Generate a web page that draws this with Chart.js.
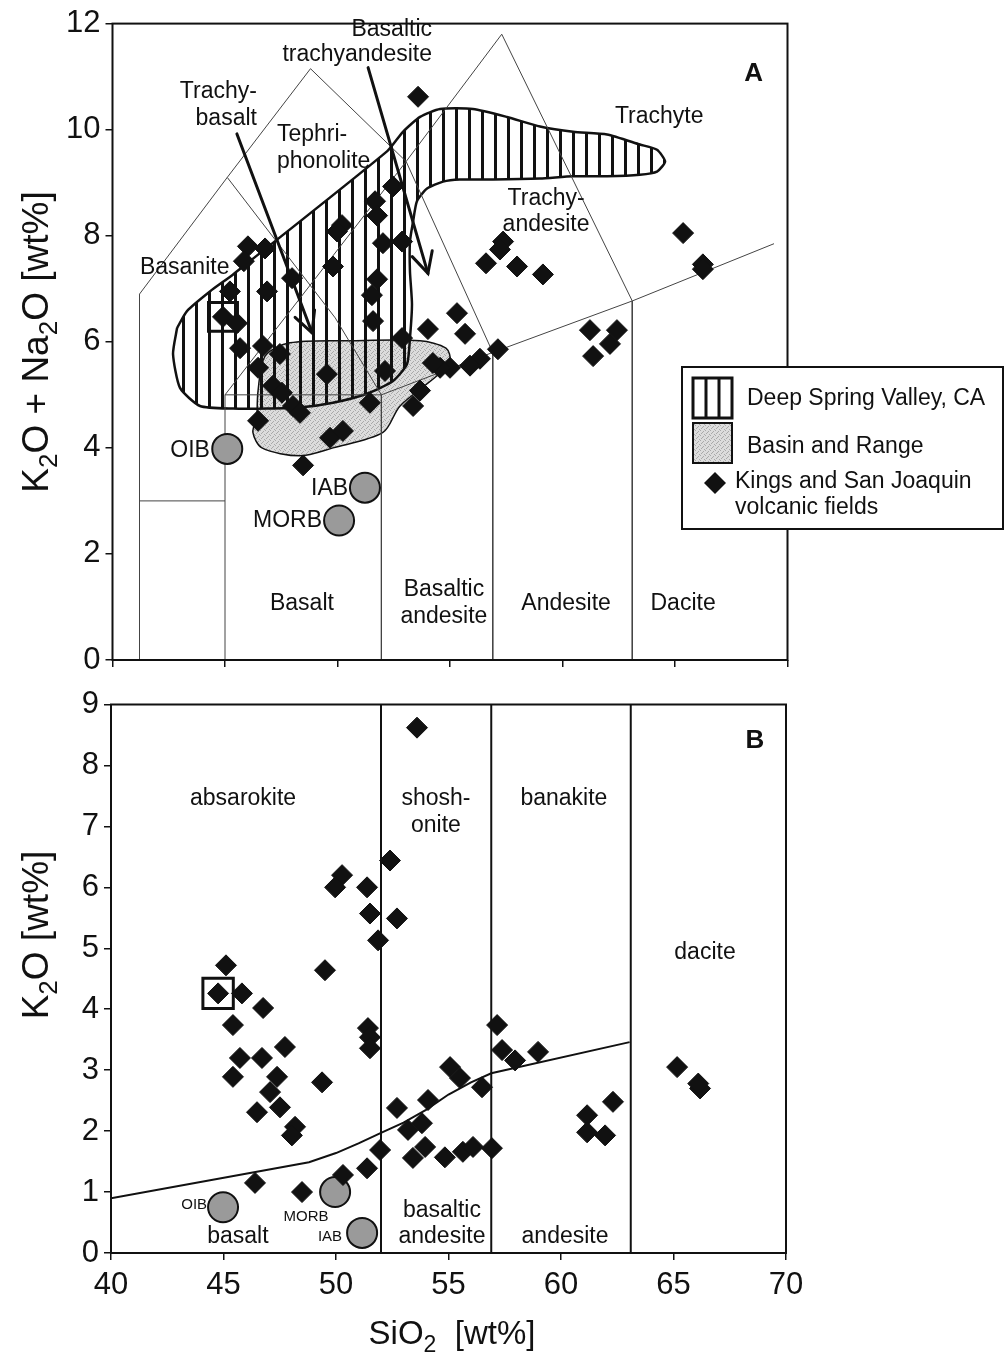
<!DOCTYPE html>
<html>
<head>
<meta charset="utf-8">
<script src="https://cdn.jsdelivr.net/npm/chart.js@4.4.1/dist/chart.umd.min.js"></script>
<style>
  html, body { margin: 0; padding: 0; background: #fff; }
  #wrap { position: relative; width: 1005px; height: 1360px; }
  .box  { position: absolute; left: 0; width: 1005px; }
  #boxA { top: 0; height: 700px; }
  #boxB { top: 680px; height: 680px; }
</style>
</head>
<body>
<div id="wrap">
  <div class="box" id="boxA"><canvas id="chartA"></canvas></div>
  <div class="box" id="boxB"><canvas id="chartB"></canvas></div>
</div>
<script>
// ── Data ───────────────────────────────────────────────────────────────────
// Kings and San Joaquin volcanic fields, TAS plot (A)
const TAS_SIO2 = [53.58, 52.47, 51.67, 51.76, 50.2, 49.98, 46.02, 46.78, 45.84, 52.02,
                  52.87, 49.8, 47.98, 51.76, 45.22, 46.87, 51.53, 44.91, 45.53, 51.58,
                  54.02, 52.87, 55.31, 55.67, 57.36, 57.22, 56.6, 57.98, 59.13, 65.36,
                  66.24, 66.24, 61.22, 62.42, 62.11, 61.36, 57.13, 56.33, 55.89, 55.0,
                  54.56, 54.24, 52.11, 53.67, 53.36, 51.44, 45.67, 46.69, 47.44, 46.47,
                  49.53, 47.13, 47.53, 48.02, 48.33, 46.47, 49.67, 50.24, 48.47];
const TAS_ALK  = [10.62, 8.93, 8.65, 8.38, 8.2, 8.08, 7.8, 7.76, 7.52, 7.86,
                  7.89, 7.42, 7.2, 7.18, 6.95, 6.95, 6.88, 6.47, 6.35, 6.39,
                  6.24, 6.07, 6.54, 6.15, 7.89, 7.74, 7.48, 7.42, 7.27, 8.05,
                  7.46, 7.37, 6.22, 6.22, 5.96, 5.73, 5.86, 5.68, 5.55, 5.51,
                  5.51, 5.6, 5.45, 5.08, 4.79, 4.85, 5.88, 5.92, 5.77, 5.51,
                  5.39, 5.17, 5.04, 4.79, 4.66, 4.51, 4.19, 4.32, 3.67];

// Kings and San Joaquin volcanic fields, K2O plot (B)
const K_SIO2 = [53.6, 52.4, 50.27, 49.96, 51.38, 51.51, 52.71, 51.87, 45.11, 49.51,
                44.76, 45.82, 46.76, 45.42, 51.42, 51.51, 51.51, 47.73, 45.73, 46.71,
                45.42, 47.38, 49.38, 47.07, 46.49, 47.51, 48.18, 48.04, 46.4, 48.49,
                50.31, 51.38, 51.96, 52.71, 53.2, 53.82, 54.09, 53.96, 53.42, 54.84,
                55.07, 55.51, 56.49, 55.64, 56.09, 56.93, 57.16, 57.38, 57.96, 58.98,
                61.16, 62.31, 61.16, 61.96, 65.16, 66.18, 66.1];
const K_K2O  = [8.62, 6.44, 6.2, 6.0, 6.0, 5.57, 5.49, 5.13, 4.72, 4.64,
                4.26, 4.26, 4.02, 3.74, 3.69, 3.54, 3.36, 3.38, 3.2, 3.2,
                2.89, 2.89, 2.8, 2.64, 2.31, 2.39, 2.07, 1.93, 1.15, 1.0,
                1.28, 1.39, 1.69, 2.38, 2.02, 2.13, 2.51, 1.74, 1.56, 1.57,
                3.05, 2.87, 2.72, 1.66, 1.74, 1.72, 3.74, 3.33, 3.16, 3.3,
                2.26, 2.48, 1.98, 1.93, 3.05, 2.7, 2.78];

// reference basalts: OIB, IAB, MORB
const REF_NAMES    = ['OIB', 'IAB', 'MORB'];
const REF_TAS_SIO2 = [45.1, 51.22, 50.07];
const REF_TAS_ALK  = [3.98, 3.25, 2.63];
const REF_K_SIO2   = [44.98, 51.16, 49.96];
const REF_K_K2O    = [0.75, 0.33, 1.0];

// the boxed sample
const BOXED_TAS = [44.91, 6.47];
const BOXED_K   = [44.76, 4.26];

// Deep Spring Valley field (outline)
const DSV_SIO2 = [42.87, 43.31, 44.33, 45.36, 52.2, 52.91, 53.67, 54.56, 56.02, 57.53,
                  59.0, 60.47, 61.98, 63.44, 64.2, 64.56, 64.2, 63.44, 61.98, 60.47,
                  59.0, 56.91, 55.44, 54.69, 53.98, 53.53, 53.36, 53.22, 53.22, 53.31,
                  53.22, 53.09, 52.47, 51.31, 49.8, 48.33, 46.87, 45.36, 43.89, 43.0,
                  42.69, 42.87];
const DSV_ALK  = [6.26, 6.58, 6.95, 7.27, 9.59, 9.96, 10.24, 10.39, 10.39, 10.24,
                  10.06, 9.96, 9.91, 9.72, 9.62, 9.4, 9.21, 9.15, 9.12, 9.12,
                  9.08, 9.06, 9.06, 9.02, 8.89, 8.65, 8.27, 7.89, 7.33, 6.71,
                  6.07, 5.58, 5.26, 5.02, 4.85, 4.76, 4.74, 4.74, 4.79, 5.13,
                  5.77, 6.26];

// Basin and Range field (outline)
const BR_SIO2 = [46.42, 46.24, 46.64, 48.33, 49.8, 52.02, 52.78, 54.42, 55.0, 54.82,
                 53.67, 50.56, 47.89, 46.78, 46.47, 46.42];
const BR_ALK  = [4.57, 4.29, 4.0, 3.85, 4.0, 4.29, 4.79, 5.36, 5.64, 5.88,
                 6.02, 6.02, 5.98, 5.73, 5.08, 4.57];

// TAS field boundaries, [SiO2, Na2O+K2O]
const TAS_LINE_1 = [[41.2, 0], [41.2, 6.9], [45.1, 9.1], [48.8, 11.15], [53.05, 9.4], [56.9, 5.8], [56.9, 0]];
const TAS_LINE_2 = [[45, 0], [45, 5], [53.05, 9.4], [57.3, 11.8], [63.1, 6.77], [63.1, 0]];
const TAS_LINE_3 = [[45.1, 9.1], [49.9, 6.45], [51.95, 5], [51.95, 0]];
const TAS_LINE_4 = [[41.2, 3], [45, 3]];
const TAS_LINE_5 = [[45, 5], [51.95, 5], [56.9, 5.8], [63.1, 6.77], [69.4, 7.85]];

// arrows, tail -> head
const ARROW_TAIL_SIO2 = [45.53, 51.36];
const ARROW_TAIL_ALK  = [9.92, 11.17];
const ARROW_HEAD_SIO2 = [48.87, 54.02];
const ARROW_HEAD_ALK  = [6.17, 7.29];

// K2O plot: shoshonite boundary and SiO2 dividers
const K_CURVE_SIO2 = [40, 48.8, 50, 51, 52, 53, 54, 55, 56, 56.9, 63.05];
const K_CURVE_K2O  = [0.9, 1.49, 1.64, 1.8, 1.97, 2.14, 2.35, 2.6, 2.8, 2.95, 3.46];
const K_DIVIDERS   = [52, 56.9, 63.1];

// ── Style ──────────────────────────────────────────────────────────────────
const FONT = '"Liberation Sans", Arial, Helvetica, sans-serif';
const INK  = '#111';
const LBL  = 23;

const xy = (xs, ys) => xs.map((x, i) => ({ x, y: ys[i] }));
const pairs = arr => arr.map(([x, y]) => ({ x, y }));

function hatchPattern() {
  const c = document.createElement('canvas');
  c.width = 13; c.height = 8;
  const g = c.getContext('2d');
  g.fillStyle = INK;
  g.fillRect(0, 0, 3, 8);
  return g.createPattern(c, 'repeat');
}

function stipplePattern() {
  const c = document.createElement('canvas');
  c.width = 5; c.height = 5;
  const g = c.getContext('2d');
  g.fillStyle = '#dcdcdc';
  g.fillRect(0, 0, 5, 5);
  g.fillStyle = '#a9a9a9';
  [[0, 0], [3, 1], [1, 3], [4, 4], [2, 2]].forEach(([x, y]) => g.fillRect(x, y, 1, 1));
  return g.createPattern(c, 'repeat');
}

function lineSet(data, width, color, order) {
  return { type: 'line', data, borderColor: color, borderWidth: width, pointRadius: 0,
           pointHoverRadius: 0, fill: false, tension: 0, order };
}

function axisX(showLabels, height) {
  return {
    type: 'linear', min: 40, max: 70,
    ticks: { display: showLabels, stepSize: 5, font: { family: FONT, size: 31 }, color: INK, padding: 7, maxRotation: 0 },
    grid: { drawOnChartArea: false, tickLength: 7, color: INK, lineWidth: 1.5 },
    border: { display: false },
    afterFit: s => { s.height = height; }
  };
}

function axisY(max, step, width) {
  return {
    min: 0, max,
    ticks: { stepSize: step, font: { family: FONT, size: 31 }, color: INK, padding: 5 },
    grid: { drawOnChartArea: false, tickLength: 7, color: INK, lineWidth: 1.5 },
    border: { display: false },
    afterFit: s => { s.width = width; }
  };
}

// ── Drawing helpers ────────────────────────────────────────────────────────
function drawLabels(chart, list) {
  const { ctx, scales: { x, y } } = chart;
  ctx.save();
  ctx.fillStyle = INK;
  ctx.textBaseline = 'middle';
  list.forEach(([txt, sx, sy, align, size, bold]) => {
    ctx.font = (bold ? 'bold ' : '') + size + 'px ' + FONT;
    ctx.textAlign = align;
    ctx.fillText(txt, x.getPixelForValue(sx), y.getPixelForValue(sy));
  });
  ctx.restore();
}

// text with subscripts, parts = [[text, isSub], ...]
function richText(ctx, parts, cx, cy, size, rotate) {
  const main = size + 'px ' + FONT;
  const sub  = Math.round(size * 0.7) + 'px ' + FONT;
  ctx.save();
  ctx.translate(cx, cy);
  if (rotate) ctx.rotate(-Math.PI / 2);
  let w = 0;
  parts.forEach(([t, s]) => { ctx.font = s ? sub : main; w += ctx.measureText(t).width; });
  let px = -w / 2;
  ctx.fillStyle = INK;
  ctx.textAlign = 'left';
  ctx.textBaseline = 'middle';
  parts.forEach(([t, s]) => {
    ctx.font = s ? sub : main;
    ctx.fillText(t, px, s ? size * 0.32 : 0);
    px += ctx.measureText(t).width;
  });
  ctx.restore();
}

function drawFrame(chart) {
  const { ctx, chartArea: a } = chart;
  ctx.save();
  ctx.strokeStyle = INK;
  ctx.lineWidth = 2;
  ctx.strokeRect(a.left, a.top, a.right - a.left, a.bottom - a.top);
  ctx.restore();
}

function drawArrows(chart) {
  const { ctx, scales: { x, y } } = chart;
  ctx.save();
  ctx.strokeStyle = INK;
  ctx.lineWidth = 3;
  ctx.lineCap = 'round';
  ARROW_TAIL_SIO2.forEach((sx, i) => {
    const x1 = x.getPixelForValue(sx), y1 = y.getPixelForValue(ARROW_TAIL_ALK[i]);
    const x2 = x.getPixelForValue(ARROW_HEAD_SIO2[i]), y2 = y.getPixelForValue(ARROW_HEAD_ALK[i]);
    const a = Math.atan2(y2 - y1, x2 - x1), L = 23, s = 0.47;
    ctx.beginPath();
    ctx.moveTo(x1, y1);
    ctx.lineTo(x2, y2);
    ctx.stroke();
    ctx.beginPath();
    ctx.moveTo(x2 - L * Math.cos(a - s), y2 - L * Math.sin(a - s));
    ctx.lineTo(x2, y2);
    ctx.lineTo(x2 - L * Math.cos(a + s), y2 - L * Math.sin(a + s));
    ctx.stroke();
  });
  ctx.restore();
}

// ── Chart A: total alkali vs silica ────────────────────────────────────────
const HATCH = hatchPattern();
const STIPPLE = stipplePattern();

const TAS_TEXT = [
  ['Basaltic', 54.2, 11.88, 'right', LBL],
  ['trachyandesite', 54.2, 11.41, 'right', LBL],
  ['Trachy-', 46.42, 10.71, 'right', LBL],
  ['basalt', 46.42, 10.21, 'right', LBL],
  ['Tephri-', 47.31, 9.91, 'left', LBL],
  ['phonolite', 47.31, 9.4, 'left', LBL],
  ['Basanite', 41.22, 7.39, 'left', LBL],
  ['Trachyte', 62.33, 10.24, 'left', LBL],
  ['Trachy-', 59.27, 8.7, 'center', LBL],
  ['andesite', 59.27, 8.21, 'center', LBL],
  ['A', 68.5, 11.05, 'center', 26, true],
  ['OIB', 44.33, 3.95, 'right', LBL],
  ['IAB', 50.47, 3.23, 'right', LBL],
  ['MORB', 49.31, 2.63, 'right', LBL],
  ['Basalt', 48.42, 1.07, 'center', LBL],
  ['Basaltic', 54.73, 1.32, 'center', LBL],
  ['andesite', 54.73, 0.81, 'center', LBL],
  ['Andesite', 60.16, 1.07, 'center', LBL],
  ['Dacite', 65.36, 1.07, 'center', LBL]
];

const plotA = {
  id: 'plotA',
  afterDatasetsDraw(chart) {
    drawFrame(chart);
    drawArrows(chart);
    drawLabels(chart, TAS_TEXT);
  },
  afterDraw(chart) {
    const ctx = chart.ctx;
    richText(ctx, [['K', 0], ['2', 1], ['O + Na', 0], ['2', 1], ['O [wt%]', 0]], 38, 342, 37, true);

    // legend
    ctx.save();
    ctx.fillStyle = '#fff';
    ctx.fillRect(682, 367, 321, 162);
    ctx.strokeStyle = INK;
    ctx.lineWidth = 2;
    ctx.strokeRect(682, 367, 321, 162);

    ctx.lineWidth = 3;
    ctx.strokeRect(693, 378, 39, 40);
    ctx.beginPath();
    ctx.moveTo(706, 378); ctx.lineTo(706, 418);
    ctx.moveTo(719, 378); ctx.lineTo(719, 418);
    ctx.stroke();

    ctx.fillStyle = STIPPLE;
    ctx.fillRect(693, 423, 39, 40);
    ctx.lineWidth = 2;
    ctx.strokeRect(693, 423, 39, 40);

    ctx.fillStyle = INK;
    ctx.beginPath();
    ctx.moveTo(715, 472); ctx.lineTo(726, 483); ctx.lineTo(715, 494); ctx.lineTo(704, 483);
    ctx.closePath();
    ctx.fill();

    ctx.font = LBL + 'px ' + FONT;
    ctx.textAlign = 'left';
    ctx.textBaseline = 'middle';
    ctx.fillText('Deep Spring Valley, CA', 747, 399);
    ctx.fillText('Basin and Range', 747, 447);
    ctx.fillText('Kings and San Joaquin', 735, 482);
    ctx.fillText('volcanic fields', 735, 508);
    ctx.restore();
  }
};

new Chart(document.getElementById('chartA'), {
  type: 'scatter',
  data: {
    datasets: [
      { type: 'line', data: xy(BR_SIO2, BR_ALK), fill: 'shape', backgroundColor: STIPPLE,
        borderColor: INK, borderWidth: 1.5, pointRadius: 0, tension: 0.3, order: 20 },
      { type: 'line', data: xy(DSV_SIO2, DSV_ALK), fill: 'shape', backgroundColor: HATCH,
        borderColor: INK, borderWidth: 2.5, pointRadius: 0, tension: 0.2, order: 19 },
      lineSet(pairs(TAS_LINE_1), 1, '#444', 15),
      lineSet(pairs(TAS_LINE_2), 1, '#444', 15),
      lineSet(pairs(TAS_LINE_3), 1, '#444', 15),
      lineSet(pairs(TAS_LINE_4), 1, '#444', 15),
      lineSet(pairs(TAS_LINE_5), 1, '#444', 15),
      { label: 'reference', data: xy(REF_TAS_SIO2, REF_TAS_ALK), pointStyle: 'circle', pointRadius: 15,
        pointHoverRadius: 15, backgroundColor: '#9a9a9a', borderColor: INK, borderWidth: 2, order: 5 },
      { data: [{ x: BOXED_TAS[0], y: BOXED_TAS[1] }], pointStyle: 'rect', pointRadius: 20.5,
        pointHoverRadius: 20.5, backgroundColor: 'rgba(0,0,0,0)', borderColor: INK, borderWidth: 3, order: 4 },
      { label: 'Kings and San Joaquin volcanic fields', data: xy(TAS_SIO2, TAS_ALK), pointStyle: 'rectRot',
        pointRadius: 10.5, pointHoverRadius: 10.5, backgroundColor: INK, borderColor: INK, borderWidth: 1, order: 3 }
    ]
  },
  options: {
    responsive: true, maintainAspectRatio: false, animation: false, events: [],
    layout: { padding: { top: 20, right: 217.5, left: 0, bottom: 0 } },
    plugins: { legend: { display: false }, tooltip: { enabled: false } },
    scales: { x: axisX(false, 40), y: axisY(12, 2, 112.5) }
  },
  plugins: [plotA]
});

// ── Chart B: K2O vs silica ─────────────────────────────────────────────────
const K_TEXT = [
  ['absarokite', 45.87, 7.46, 'center', LBL],
  ['shosh-', 54.44, 7.46, 'center', LBL],
  ['onite', 54.44, 7.02, 'center', LBL],
  ['banakite', 60.13, 7.46, 'center', LBL],
  ['B', 68.62, 8.41, 'center', 26, true],
  ['dacite', 66.4, 4.93, 'center', LBL],
  ['OIB', 44.27, 0.79, 'right', 15],
  ['basalt', 45.64, 0.26, 'center', LBL],
  ['MORB', 48.67, 0.59, 'center', 15],
  ['IAB', 50.27, 0.26, 'right', 15],
  ['basaltic', 54.71, 0.69, 'center', LBL],
  ['andesite', 54.71, 0.26, 'center', LBL],
  ['andesite', 60.18, 0.26, 'center', LBL]
];

const plotB = {
  id: 'plotB',
  afterDatasetsDraw(chart) {
    drawFrame(chart);
    drawLabels(chart, K_TEXT);
  },
  afterDraw(chart) {
    const ctx = chart.ctx;
    richText(ctx, [['K', 0], ['2', 1], ['O [wt%]', 0]], 38, 255, 37, true);
    richText(ctx, [['SiO', 0], ['2', 1], ['  [wt%]', 0]], 452, 655, 33, false);
  }
};

new Chart(document.getElementById('chartB'), {
  type: 'scatter',
  data: {
    datasets: [
      lineSet(xy(K_CURVE_SIO2, K_CURVE_K2O), 2, INK, 15),
      ...K_DIVIDERS.map(sx => lineSet([{ x: sx, y: 0 }, { x: sx, y: 9 }], 2, INK, 15)),
      { label: 'reference', data: xy(REF_K_SIO2, REF_K_K2O), pointStyle: 'circle', pointRadius: 15,
        pointHoverRadius: 15, backgroundColor: '#9a9a9a', borderColor: INK, borderWidth: 2, order: 5 },
      { data: [{ x: BOXED_K[0], y: BOXED_K[1] }], pointStyle: 'rect', pointRadius: 21.5,
        pointHoverRadius: 21.5, backgroundColor: 'rgba(0,0,0,0)', borderColor: INK, borderWidth: 3, order: 4 },
      { label: 'Kings and San Joaquin volcanic fields', data: xy(K_SIO2, K_K2O), pointStyle: 'rectRot',
        pointRadius: 10.5, pointHoverRadius: 10.5, backgroundColor: INK, borderColor: INK, borderWidth: 1, order: 3 }
    ]
  },
  options: {
    responsive: true, maintainAspectRatio: false, animation: false, events: [],
    layout: { padding: { top: 23, right: 219, left: 0, bottom: 0 } },
    plugins: { legend: { display: false }, tooltip: { enabled: false } },
    scales: { x: axisX(true, 107), y: axisY(9, 1, 111) }
  },
  plugins: [plotB]
});
</script>
</body>
</html>
